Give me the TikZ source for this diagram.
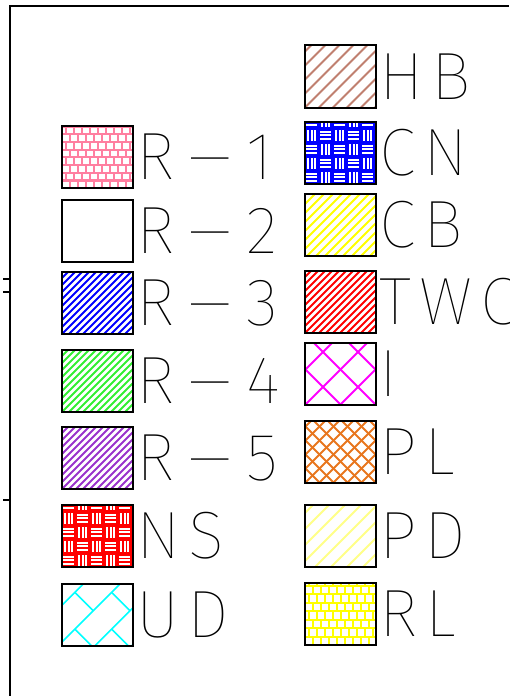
\documentclass[tikz,border=0pt]{standalone}
\usepackage{fontspec}
\newfontfamily\cadfont[LetterSpace=12]{Fira Sans Thin}
\usetikzlibrary{positioning,calc}
\definecolor{rpink}{HTML}{FF7FA0}
\definecolor{rblue}{HTML}{0000FF}
\definecolor{rgreen}{HTML}{33EE33}
\definecolor{rpurple}{HTML}{9933CC}
\definecolor{nsred}{HTML}{FF0000}
\definecolor{udcyan}{HTML}{00FFFF}
\definecolor{hbbrown}{HTML}{C08070}
\definecolor{cbyellow}{HTML}{FFFF00}
\definecolor{imagenta}{HTML}{FF00FF}
\definecolor{plorange}{HTML}{E8761E}
\definecolor{pdyellow}{HTML}{FFFF88}

% long CAD-style dash
\newcommand{\cdash}{\kern5pt\scalebox{2.3}[1]{-}\kern5pt}
% diagonal hatch: box, colour, step, width
\newcommand{\hatchne}[4]{%
  \begin{scope}
    \clip (#1.south west) rectangle (#1.north east);
    \foreach \i in {0,...,40}
      \draw[#2, line width=#4] ($(#1.south west)+(\i*#3-70,0)$) -- ++(70,70);
  \end{scope}}
\newcommand{\hatchnw}[4]{%
  \begin{scope}
    \clip (#1.south west) rectangle (#1.north east);
    \foreach \i in {0,...,40}
      \draw[#2, line width=#4] ($(#1.south east)+(70-\i*#3,0)$) -- ++(-70,70);
  \end{scope}}
% bricks: box, colour, width, height
\newcommand{\brickfill}[4]{%
  \begin{scope}
    \clip (#1.south west) rectangle (#1.north east);
    \foreach \r in {0,...,9} {
      \draw[#2, line width=2.2pt] ($(#1.south west)+(0,\r*#4)$) -- ++(71,0);
      \foreach \c in {-1,...,9}
        \draw[#2, line width=2.2pt] ($(#1.south west)+({\c*#3+mod(\r,2)*#3/2},\r*#4)$) -- ++(0,#4);
    }
  \end{scope}}
% basket weave: box, colour, block
\newcommand{\weavefill}[3]{%
  \begin{scope}
    \clip (#1.south west) rectangle (#1.north east);
    \fill[#2] (#1.south west) rectangle (#1.north east);
    \foreach \r in {0,...,5}
      \foreach \c in {0,...,5} {
        \pgfmathtruncatemacro{\odd}{mod(\r+\c,2)}
        \coordinate (wb) at ($(#1.south west)+(\c*#3,\r*#3)$);
        \ifnum\odd=0
          \foreach \f in {0.24,0.5,0.76}
            \draw[white, line width=2.1pt] ($(wb)+(1.5,\f*#3)$) -- ++(#3-3,0);
        \else
          \foreach \f in {0.24,0.5,0.76}
            \draw[white, line width=2.1pt] ($(wb)+(\f*#3,1.5)$) -- ++(0,#3-3);
        \fi
      }
  \end{scope}}

\begin{document}
\begin{tikzpicture}[x=1pt, y=1pt,
  legbox/.style={minimum width=71pt, minimum height=62pt, inner sep=0pt},
  leglabel/.style={font=\cadfont\fontsize{67}{67}\selectfont, inner sep=0pt, text height=46pt, text depth=0pt},
  boxline/.style={draw=black, line width=2pt}]
\useasboundingbox (0,0) rectangle (509,696);

% frame and ticks
\draw[line width=2.5pt] (10,0) -- (10,690) -- (509,690);
\foreach \t in {417,404,196} \draw[line width=2pt] (3,\t) -- (10,\t);

% left column
\node[legbox] (r1) at (97.5,539) {};
\node[legbox] (r2) at (97.5,465) {};
\node[legbox] (r3) at (97.5,393) {};
\node[legbox] (r4) at (97.5,315) {};
\node[legbox] (r5) at (97.5,238) {};
\node[legbox] (ns) at (97.5,160) {};
\node[legbox] (ud) at (97.5,81) {};
% right column
\node[legbox] (hb) at (340.5,619.5) {};
\node[legbox] (cn) at (340.5,543) {};
\node[legbox] (cb) at (340.5,471) {};
\node[legbox] (two) at (340.5,394) {};
\node[legbox] (ii) at (340.5,322) {};
\node[legbox] (pl) at (340.5,244) {};
\node[legbox] (pd) at (340.5,160) {};
\node[legbox] (rl) at (340.5,82) {};

% fills
\brickfill{r1}{rpink}{8}{7.7}
\hatchne{r3}{rblue}{7}{1.8pt}
\hatchne{r4}{rgreen}{7}{1.8pt}
\hatchne{r5}{rpurple}{7}{1.8pt}
\weavefill{ns}{nsred}{14}
\begin{scope}
  \clip (ud.south west) rectangle (ud.north east);
  \begin{scope}[shift={(ud.center)}, rotate=45]
    \foreach \r in {-4,...,4} {
      \draw[udcyan, line width=1.6pt] (-80,\r*26+6) -- (80,\r*26+6);
      \foreach \c in {-3,...,3}
        \draw[udcyan, line width=1.6pt] ({\c*52+mod(\r+4,2)*26},\r*26+6) -- ++(0,26);
    }
  \end{scope}
\end{scope}
\hatchne{hb}{hbbrown}{14}{1.8pt}
\weavefill{cn}{rblue}{14}
\hatchne{cb}{cbyellow}{9}{1.8pt}
\hatchne{two}{nsred}{7}{1.8pt}
\hatchne{ii}{imagenta}{35}{1.8pt}
\hatchnw{ii}{imagenta}{35}{1.8pt}
\hatchne{pl}{plorange}{14}{1.8pt}
\hatchnw{pl}{plorange}{14}{1.8pt}
\hatchne{pd}{pdyellow}{16}{1.8pt}
\brickfill{rl}{cbyellow}{8}{8.5}

% borders
\foreach \b in {r1,r2,r3,r4,r5,ns,ud,hb,cn,cb,two,ii,pl,pd,rl}
  \draw[boxline] (\b.south west) rectangle (\b.north east);

% labels
\node[leglabel, right=3pt of r1] (r1l) {R\cdash 1};
\node[leglabel, right=3pt of r2] (r2l) {R\cdash 2};
\node[leglabel, right=3pt of r3] (r3l) {R\cdash 3};
\node[leglabel, right=3pt of r4] (r4l) {R\cdash 4};
\node[leglabel, right=3pt of r5] (r5l) {R\cdash 5};
\node[leglabel, right=3pt of ns] (nsl) {NS};
\node[leglabel, right=3pt of ud] (udl) {UD};
\node[leglabel, right=3pt of hb] (hbl) {HB};
\node[leglabel, right=3pt of cn] (cnl) {CN};
\node[leglabel, right=3pt of cb] (cbl) {CB};
\node[leglabel, right=3pt of two] (twol) {TWO};
\node[leglabel, right=3pt of ii] (iil) {I};
\node[leglabel, right=3pt of pl] (pll) {PL};
\node[leglabel, right=3pt of pd] (pdl) {PD};
\node[leglabel, right=3pt of rl] (rll) {RL};
\end{tikzpicture}
\end{document}
